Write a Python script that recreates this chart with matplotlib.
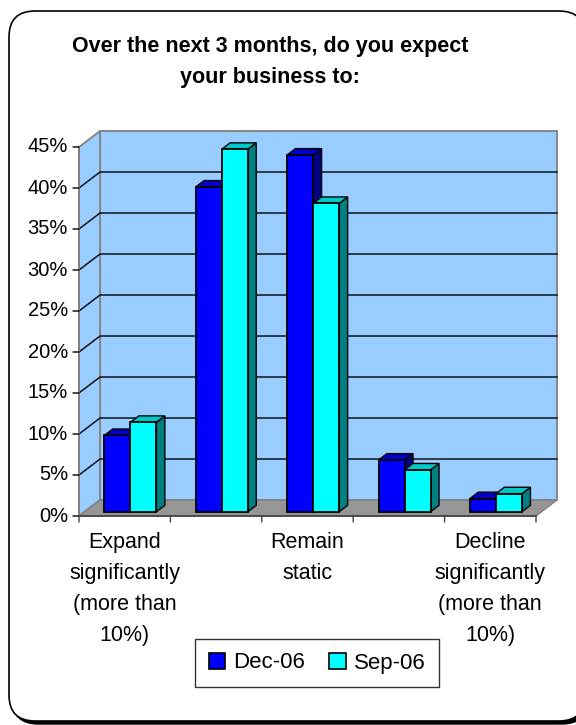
import matplotlib
matplotlib.use("Agg")
import matplotlib.pyplot as plt
from matplotlib.patches import Polygon, FancyBboxPatch, Patch
from matplotlib.lines import Line2D

plt.rcParams['font.family'] = ['Liberation Sans', 'DejaVu Sans']

# ---- data -------------------------------------------------------------
categories = ["Expand significantly (more than 10%)", "Expand slightly",
              "Remain static", "Decline slightly",
              "Decline significantly (more than 10%)"]
tick_labels = ["Expand\nsignificantly\n(more than\n10%)", "",
               "Remain\nstatic", "",
               "Decline\nsignificantly\n(more than\n10%)"]
series_names = ["Dec-06", "Sep-06"]
dec_06 = [9.3, 39.6, 43.5, 6.3, 1.6]
sep_06 = [10.9, 44.2, 37.6, 5.1, 2.2]
y_ticks = [0, 5, 10, 15, 20, 25, 30, 35, 40, 45]
title = "Over the next 3 months, do you expect\nyour business to:"

# ---- styling ----------------------------------------------------------
front_cols = ["#0000FF", "#00FFFF"]
top_cols = ["#0000C8", "#00C8C8"]
side_cols = ["#000080", "#008080"]
WALL = "#99CCFF"
FLOOR = "#969696"
EDGE_GRAY = "#808080"

# oblique depth offset of the back wall, in data units
DEPTH_X = 0.23     # categories
DEPTH_Y = 1.95     # percent
BAR_F0, BAR_F1 = 0.27, 0.67   # bar depth span (fraction of full depth)
BAR_W = 0.285

W, H = 576, 725
fig = plt.figure(figsize=(W / 100, H / 100), dpi=100)

# background layer in pixel-like units for the rounded frame
bg = fig.add_axes([0, 0, 1, 1])
bg.set_xlim(0, W)
bg.set_ylim(H, 0)
bg.axis("off")
shadow = FancyBboxPatch((12, 14), 576, 710, boxstyle="round,pad=0,rounding_size=26",
                        facecolor="black", edgecolor="black", lw=1)
frame = FancyBboxPatch((9, 11), 576, 710, boxstyle="round,pad=0,rounding_size=26",
                       facecolor="white", edgecolor="black", lw=1.2)
bg.add_patch(shadow)
bg.add_patch(frame)

fig.text(270 / W, 1 - 62 / H, title, ha="center", va="center",
         fontsize=15.5, fontweight="bold", linespacing=1.6)

# main plotting axes: front plane of the chart
ax = fig.add_axes([79 / W, (H - 516) / H, 457 / W, 369 / H])
n = len(categories)
ax.set_xlim(-0.5, n - 0.5)
ax.set_ylim(0, 45)
ax.axis("off")


def P(x, y, f):
    return (x + f * DEPTH_X, y + f * DEPTH_Y)


def poly(pts, fc, ec="black", lw=1.0, z=1):
    ax.add_patch(Polygon(pts, closed=True, facecolor=fc, edgecolor=ec,
                         lw=lw, zorder=z, clip_on=False, joinstyle="miter"))


x0, x1 = -0.5, n - 0.5
ytop = y_ticks[-1]

# walls and floor
poly([P(x0, 0, 1), P(x1, 0, 1), P(x1, ytop, 1), P(x0, ytop, 1)], WALL, EDGE_GRAY, 1.3, 1)
poly([P(x0, 0, 0), P(x0, 0, 1), P(x0, ytop, 1), P(x0, ytop, 0)], WALL, EDGE_GRAY, 1.3, 1)
poly([P(x0, 0, 0), P(x1, 0, 0), P(x1, 0, 1), P(x0, 0, 1)], FLOOR, EDGE_GRAY, 1.0, 1)

# gridlines on back and side walls
for yv in y_ticks[1:-1]:
    a, b = P(x0, yv, 0), P(x0, yv, 1)
    c = P(x1, yv, 1)
    ax.add_line(Line2D([a[0], b[0], c[0]], [a[1], b[1], c[1]], color="black",
                       lw=1.0, zorder=2, clip_on=False))

# front axes lines and ticks
ax.add_line(Line2D([x0, x1], [0, 0], color="#404040", lw=1.2, zorder=3, clip_on=False))
ax.add_line(Line2D([x0, x0], [0, ytop], color=EDGE_GRAY, lw=1.3, zorder=3, clip_on=False))
for yv in y_ticks:
    ax.annotate("", xy=(x0, yv), xytext=(-6, 0), textcoords="offset pixels",
                arrowprops=dict(arrowstyle="-", color="black", lw=1.0,
                                shrinkA=0, shrinkB=0))
    ax.annotate(f"{yv}%", xy=(x0, yv), xytext=(-11, 0), textcoords="offset pixels",
                ha="right", va="center", fontsize=14.5)
for k in range(n + 1):
    ax.annotate("", xy=(x0 + k, 0), xytext=(0, -6), textcoords="offset pixels",
                arrowprops=dict(arrowstyle="-", color="#404040", lw=1.0,
                                shrinkA=0, shrinkB=0))
for i, lab in enumerate(tick_labels):
    if lab:
        ax.annotate(lab, xy=(i, 0), xytext=(0, -16), textcoords="offset pixels",
                    ha="center", va="top", fontsize=15.5, linespacing=1.62)

# 3D-looking bars
for i in range(n):
    for s, vals in enumerate([dec_06, sep_06]):
        v = vals[i]
        xl = i - BAR_W + s * BAR_W
        xr = xl + BAR_W
        poly([P(xr, 0, BAR_F0), P(xr, 0, BAR_F1), P(xr, v, BAR_F1), P(xr, v, BAR_F0)],
             side_cols[s], z=5)
        poly([P(xl, v, BAR_F0), P(xr, v, BAR_F0), P(xr, v, BAR_F1), P(xl, v, BAR_F1)],
             top_cols[s], z=5)
        poly([P(xl, 0, BAR_F0), P(xr, 0, BAR_F0), P(xr, v, BAR_F0), P(xl, v, BAR_F0)],
             front_cols[s], z=5, lw=1.3)

# legend
handles = [Patch(facecolor=front_cols[k], edgecolor="black", lw=1.2) for k in range(2)]
leg = fig.legend(handles, series_names, loc="center",
                 bbox_to_anchor=(317 / W, 1 - 663 / H), ncol=2, fontsize=16,
                 frameon=True, fancybox=False, edgecolor="black",
                 handlelength=0.75, handleheight=0.75, handletextpad=0.35,
                 columnspacing=1.1, borderpad=0.62)
leg.get_frame().set_linewidth(1.0)

fig.savefig("out.png", dpi=100)
